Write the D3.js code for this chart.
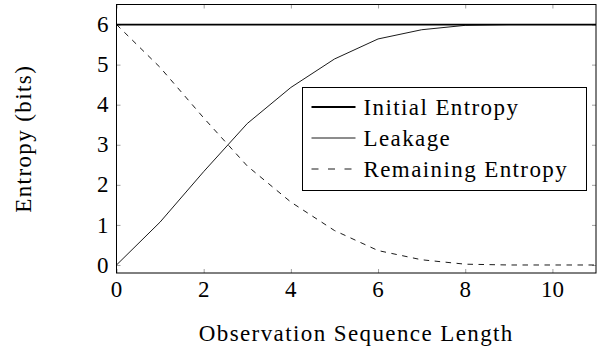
<!DOCTYPE html>
<html>
<head>
<meta charset="utf-8">
<script src="https://cdn.jsdelivr.net/npm/d3@7"></script>
<style>
  body { margin: 0; background: #fff; }
  svg { display: block; }
  text { font-family: "Liberation Serif", serif; fill: #000; font-size: 23px; }
  .wide { letter-spacing: 1.4px; }
</style>
</head>
<body>
<div id="chart"></div>
<script>
var steps = [0, 1, 2, 3, 4, 5, 6, 7, 8, 9, 10, 11];
var initialEntropy = [6, 6, 6, 6, 6, 6, 6, 6, 6, 6, 6, 6];
var leakage = [0, 1.07, 2.33, 3.53, 4.43, 5.14, 5.64, 5.87, 5.98, 6.0, 6.0, 6.0];
var remaining = [6, 4.93, 3.67, 2.47, 1.57, 0.86, 0.36, 0.13, 0.02, 0.0, 0.0, 0.0];
var xTicks = [0, 2, 4, 6, 8, 10];
var yTicks = [0, 1, 2, 3, 4, 5, 6];
var seriesNames = ['Initial Entropy', 'Leakage', 'Remaining Entropy'];

var W = 597, H = 346;
var margin = { top: 4.5, right: 1, bottom: 73, left: 116.5 };
var iw = W - margin.left - margin.right,
    ih = H - margin.top - margin.bottom;

var svg = d3.select('#chart').append('svg')
    .attr('width', W).attr('height', H);
var g = svg.append('g')
    .attr('transform', 'translate(' + margin.left + ',' + margin.top + ')');

var x = d3.scaleLinear().domain([0, 11]).range([0, iw]);
var y = d3.scaleLinear().domain([-0.2, 6.5]).range([ih, 0]);

// inward ticks on all four sides, pgfplots style
function tickStyle(sel) {
    sel.select('.domain').remove();
    sel.selectAll('.tick line').attr('stroke', '#888').attr('stroke-width', 0.8);
}
g.append('g').attr('transform', 'translate(0,' + ih + ')')
    .call(d3.axisBottom(x).tickValues(xTicks).tickSize(-4).tickFormat(''))
    .call(tickStyle);
g.append('g')
    .call(d3.axisTop(x).tickValues(xTicks).tickSize(-4).tickFormat(''))
    .call(tickStyle);
g.append('g')
    .call(d3.axisLeft(y).tickValues(yTicks).tickSize(-4).tickFormat(''))
    .call(tickStyle);
g.append('g').attr('transform', 'translate(' + iw + ',0)')
    .call(d3.axisRight(y).tickValues(yTicks).tickSize(-4).tickFormat(''))
    .call(tickStyle);

g.selectAll('.xlab').data(xTicks).enter().append('text')
    .attr('x', function(d) { return x(d); })
    .attr('y', ih + 24)
    .attr('text-anchor', 'middle')
    .text(function(d) { return d; });
g.selectAll('.ylab').data(yTicks).enter().append('text')
    .attr('x', -8)
    .attr('y', function(d) { return y(d); })
    .attr('dy', '0.33em')
    .attr('text-anchor', 'end')
    .text(function(d) { return d; });

var line = d3.line()
    .x(function(d, i) { return x(steps[i]); })
    .y(function(d) { return y(d); });

svg.append('clipPath').attr('id', 'clip')
    .append('rect').attr('width', iw).attr('height', ih);
var plot = g.append('g').attr('clip-path', 'url(#clip)');

var styles = [
    { width: 1.8, dash: null },
    { width: 0.9, dash: null },
    { width: 0.9, dash: '5.5,5.5' }
];
[initialEntropy, leakage, remaining].forEach(function(vals, k) {
    plot.append('path')
        .datum(vals)
        .attr('d', line)
        .attr('fill', 'none')
        .attr('stroke', '#000')
        .attr('stroke-width', styles[k].width)
        .attr('stroke-dasharray', styles[k].dash);
});

// frame
g.append('rect')
    .attr('width', iw).attr('height', ih)
    .attr('fill', 'none').attr('stroke', '#000').attr('stroke-width', 1);

// legend
var lg = svg.append('g').attr('transform', 'translate(302.5,87.5)');
lg.append('rect')
    .attr('width', 284).attr('height', 103)
    .attr('fill', '#fff').attr('stroke', '#000').attr('stroke-width', 1);
var rows = lg.selectAll('.row').data(seriesNames).enter().append('g')
    .attr('transform', function(d, i) { return 'translate(0,' + (19.5 + i * 31) + ')'; });
rows.append('line')
    .attr('x1', 9).attr('x2', 53)
    .attr('stroke', '#000')
    .attr('stroke-width', function(d, i) { return styles[i].width; })
    .attr('stroke-dasharray', function(d, i) { return i === 2 ? '7,9.5' : null; });
rows.append('text')
    .attr('class', 'wide')
    .attr('x', 61).attr('dy', '0.33em')
    .text(function(d) { return d; });

// axis titles
svg.append('text')
    .attr('class', 'wide')
    .attr('transform', 'translate(31,' + (margin.top + ih / 2) + ') rotate(-90)')
    .attr('text-anchor', 'middle')
    .text('Entropy (bits)');
svg.append('text')
    .attr('class', 'wide')
    .attr('x', margin.left + iw / 2)
    .attr('y', 341)
    .attr('text-anchor', 'middle')
    .text('Observation Sequence Length');
</script>
</body>
</html>
